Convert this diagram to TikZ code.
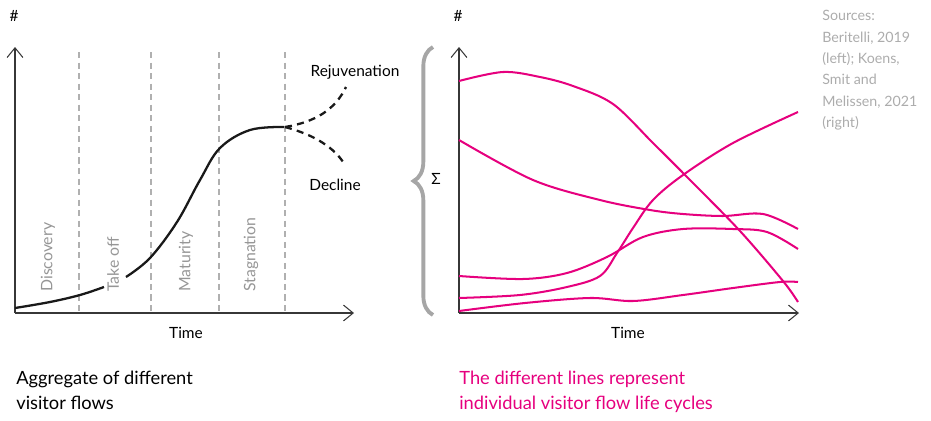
\documentclass[tikz,border=0pt]{standalone}
\usepackage{fontspec}
\setmainfont{Lato}
\usetikzlibrary{arrows.meta,decorations.pathreplacing}

\definecolor{flowpink}{RGB}{230,0,126}
\definecolor{axisgray}{RGB}{55,55,55}
\definecolor{phasegray}{RGB}{150,150,150}
\definecolor{notegray}{RGB}{172,172,172}

\tikzset{
  axis/.style={draw=axisgray,line width=0.6pt,-{Straight Barb[length=5.5pt,width=9pt]}},
  phase/.style={draw=phasegray!75,line width=0.6pt,dash pattern=on 3.5pt off 2.5pt},
  phaselabel/.style={rotate=90,anchor=west,inner sep=0pt,text=phasegray,font=\fontsize{9}{10}\selectfont},
  lifecycle/.style={draw=black!90,line width=1.3pt},
  outlook/.style={lifecycle,dash pattern=on 4pt off 3pt},
  flow/.style={draw=flowpink,line width=1.15pt},
  axislabel/.style={inner sep=0pt,font=\fontsize{8.8}{10}\selectfont},
  caption/.style={anchor=north west,inner sep=0pt,align=left,font=\fontsize{10.4}{14.2}\selectfont}
}

\begin{document}
\begin{tikzpicture}[x=0.02cm,y=-0.02cm]
\useasboundingbox (0,0) rectangle (931,420);

% left: aggregate life cycle
\coordinate (LO) at (15,313);
\coordinate (LY) at (15,47);
\coordinate (LX) at (354,313);
\foreach \x in {79,151,219,285}
  \draw[phase] (\x,52) -- (\x,313);
\draw[axis] (LO) -- (LY);
\draw[axis] (LO) -- (LX);
\node[axislabel] (lhash) at (14,16) {\#};
\node[axislabel] (ltime) at (186,333) {Time};

\foreach \x/\phasename in {48/Discovery,113/Take off,186/Maturity,251/Stagnation}
  \node[phaselabel] (ph-\phasename) at (\x,292) {\phasename};

\draw[lifecycle] plot[smooth,tension=0.6] coordinates {(15,308) (50,302) (80,295) (104,287)};
\draw[lifecycle] plot[smooth,tension=0.6] coordinates {(126,277) (150,258) (177,222) (200,180) (220,148) (250,130) (284,127)};
\coordinate (peak) at (285,127);
\coordinate (up) at (346,87);
\coordinate (down) at (345,165);
\draw[outlook] (peak) .. controls (315,122) and (335,110) .. (up);
\draw[outlook] (peak) .. controls (315,135) and (335,148) .. (down);
\node[axislabel] (rejuv) at (355,72) {Rejuvenation};
\node[axislabel] (decline) at (335,185) {Decline};

\node[caption] (lcap) at (16,371) {Aggregate of different\\visitor flows};

% right: individual visitor flows
\coordinate (RO) at (459,313);
\coordinate (RY) at (459,47);
\coordinate (RX) at (799,313);
\draw[axis] (RO) -- (RY);
\draw[axis] (RO) -- (RX);
\node[axislabel] (rhash) at (458,16) {\#};
\node[axislabel] (rtime) at (628,333) {Time};

\draw[decorate,decoration={brace,amplitude=11pt,aspect=0.5},draw=phasegray!85,line width=2.2pt]
  (433,315) -- (433,47);
\node[axislabel] (sigma) at (436,179) {Σ};

\draw[flow] plot[smooth,tension=0.55] coordinates {(459,81) (503,72) (540,77) (573,86) (613,104) (653,143) (690,180) (740,231) (783,281) (798,302)};
\draw[flow] plot[smooth,tension=0.55] coordinates {(459,140) (533,180) (600,200) (650,210) (683,214) (723,216) (763,214) (798,229)};
\draw[flow] plot[smooth,tension=0.55] coordinates {(459,298) (520,295) (567,287) (600,276) (617,253) (633,228) (653,200) (683,175) (733,143) (798,112)};
\draw[flow] plot[smooth,tension=0.55] coordinates {(459,276) (523,279) (567,273) (607,257) (643,237) (683,229) (733,229) (767,232) (798,249)};
\draw[flow] plot[smooth,tension=0.55] coordinates {(459,311) (525,303) (590,298) (633,301) (683,295) (733,288) (780,282) (798,282)};

\node[caption,text=flowpink] (rcap) at (459,371) {The different lines represent\\individual visitor flow life cycles};

\node[anchor=north west,inner sep=0pt,align=left,text=notegray,font=\fontsize{8.1}{12.2}\selectfont]
  (sources) at (822,10) {Sources:\\Beritelli, 2019\\(left); Koens,\\Smit and\\Melissen, 2021\\(right)};
\end{tikzpicture}
\end{document}
